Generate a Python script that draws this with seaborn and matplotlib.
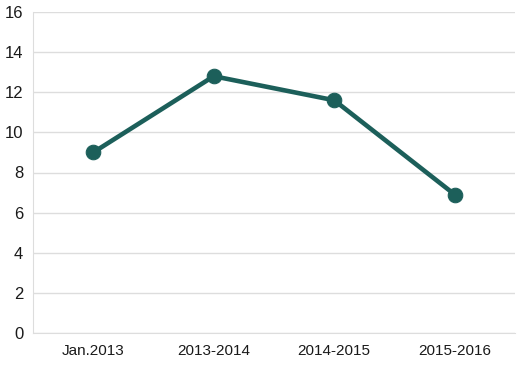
import matplotlib
matplotlib.use("Agg")
import matplotlib.pyplot as plt
import seaborn as sns
import pandas as pd
from matplotlib.ticker import FixedLocator

periods = ["Jan.2013", "2013-2014", "2014-2015", "2015-2016"]
values = [9.0, 12.8, 11.6, 6.9]

df = pd.DataFrame({"period": periods, "value": values})
df["pos"] = range(len(periods))

sns.set_style("white")
plt.rcParams["font.family"] = ["Liberation Sans", "DejaVu Sans"]

fig = plt.figure(figsize=(5.25, 3.68), dpi=100)
ax = fig.add_axes([33 / 525, 35 / 368, 482 / 525, 321 / 368])

sns.lineplot(data=df, x="pos", y="value", ax=ax, color="#1c5f5a",
             linewidth=3.3, marker="o", markersize=10.5,
             markeredgecolor="#1c5f5a", zorder=3)

ax.set_xlim(-0.5, 3.5)
ax.set_ylim(0, 16)
ax.set_yticks(range(0, 17, 2))
ax.yaxis.grid(True, color="#dddddd", linewidth=1)
ax.set_axisbelow(True)
ax.set_xticks(range(len(periods)))
ax.set_xticklabels(periods)
ax.xaxis.set_minor_locator(FixedLocator([0.5, 1.5, 2.5, 3.5]))
ax.tick_params(axis="x", which="major", length=0, labelsize=11, pad=8, colors="#1a1a1a")
ax.tick_params(axis="x", which="minor", length=5, color="#cccccc", width=1, direction="in")
ax.tick_params(axis="y", length=0, labelsize=12, pad=7, colors="#1a1a1a")
ax.set_xlabel("")
ax.set_ylabel("")
for s in ["top", "right"]:
    ax.spines[s].set_visible(False)
ax.spines["left"].set_color("#dddddd")
ax.spines["bottom"].set_color("#dddddd")

fig.savefig("out.png", dpi=100)
